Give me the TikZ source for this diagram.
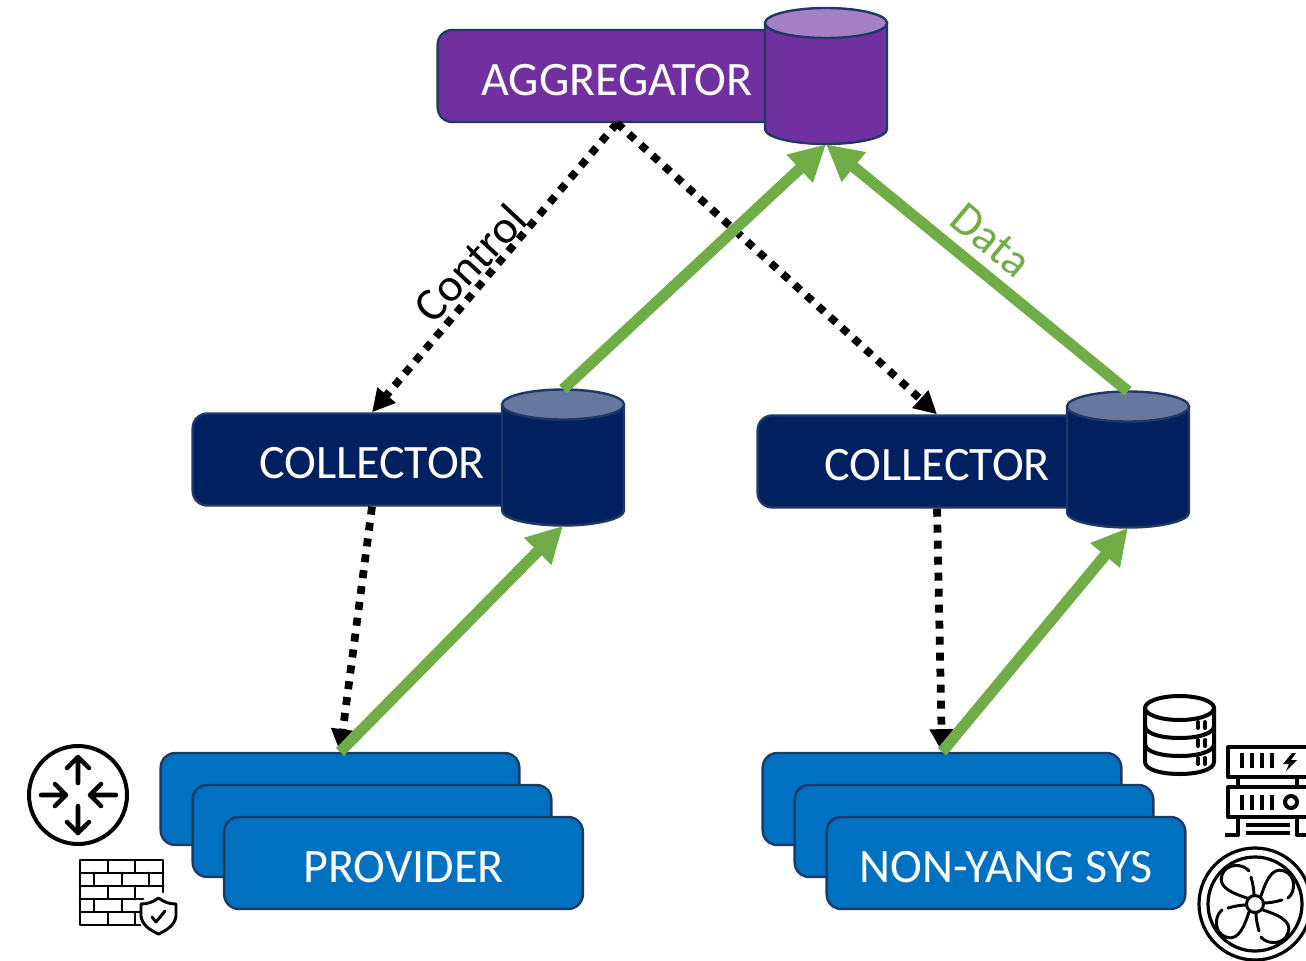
\documentclass[tikz,border=0pt]{standalone}
\usepackage{fontspec}
\setmainfont{Carlito}
\usetikzlibrary{arrows.meta}
\definecolor{edgeblue}{HTML}{1F3864}
\definecolor{aggfill}{HTML}{7030A0}
\definecolor{aggtop}{HTML}{A680C4}
\definecolor{colfill}{HTML}{002060}
\definecolor{coltop}{HTML}{66789F}
\definecolor{provfill}{HTML}{0070C0}
\definecolor{datagreen}{HTML}{70AD47}
\newcommand{\boxtext}[1]{\raisebox{0pt}[28.5pt][0pt]{#1}}
% name, centre x, centre y, body colour, top colour
\newcommand{\dbcyl}[5]{%
  \node[cylframe] (#1) at (#2,#3) {};
  \draw[cylline,fill=#4] (#2-61,#3-53) -- (#2-61,#3+53) arc[x radius=61,y radius=15,start angle=180,end angle=0] -- (#2+61,#3-53) -- cycle;
  \draw[cylline,fill=#5] (#2,#3-53) ellipse[x radius=61,y radius=15];
}
\tikzset{
  x=0.75pt,y=-0.75pt,
  box/.style={rectangle,rounded corners=11pt,draw=edgeblue,line width=1.8pt,minimum width=269pt,minimum height=69pt,inner sep=0pt,text=white,font=\fontsize{36}{40}\selectfont},
  cylframe/.style={rectangle,draw=none,minimum width=91.5pt,minimum height=102pt,inner sep=0pt},
  cylline/.style={draw=edgeblue,line width=1.8pt},
  ctrl/.style={-{Triangle[length=17pt,width=17pt]},line width=5.8pt,black,dash pattern=on 6pt off 6pt},
  datafl/.style={-{Triangle[length=27pt,width=27pt]},line width=8.4pt,datagreen},
  icon/.style={black,line width=3pt,line cap=round,line join=round},
  iconthin/.style={black,line width=2.2pt,line cap=round,line join=round},
  rarrow/.style={icon,line width=3.4pt},
}
\begin{document}
\begin{tikzpicture}
\useasboundingbox (0,0) rectangle (1306,960);
\clip (0,0) rectangle (1306,960);

% boxes and cylinders
\node[box,fill=aggfill] (agg) at (617,76) {\boxtext{AGGREGATOR}};
\dbcyl{aggdb}{826}{76}{aggfill}{aggtop}
\node[box,fill=colfill] (col1) at (372,459.5) {\boxtext{COLLECTOR}};
\dbcyl{col1db}{563}{457.5}{colfill}{coltop}
\node[box,fill=colfill] (col2) at (937,461.5) {\boxtext{COLLECTOR}};
\dbcyl{col2db}{1128}{459.5}{colfill}{coltop}
\node[box,fill=provfill] (prova) at (340,799) {};
\node[box,fill=provfill] (provb) at (372,831) {};
\node[box,fill=provfill] (provc) at (403.5,863) {\boxtext{PROVIDER}};
\node[box,fill=provfill] (nonya) at (942,799) {};
\node[box,fill=provfill] (nonyb) at (974,831) {};
\node[box,fill=provfill] (nonyc) at (1006,863) {\boxtext{NON-YANG SYS}};

% control connectors
\draw[ctrl] (agg.south) -- (col1.north);
\draw[ctrl] (agg.south) -- (col2.north);
\draw[ctrl] (col1.south) -- (prova.north);
\draw[ctrl] (col2.south) -- (nonya.north);

% data connectors
\draw[datafl] (col1db.north) -- (aggdb.south);
\draw[datafl] (col2db.north) -- (aggdb.south);
\draw[datafl] (prova.north) -- (col1db.south);
\draw[datafl] (nonya.north) -- (col2db.south);

% labels
\node[rotate=47,font=\fontsize{35}{38}\selectfont] (ctrllabel) at (470,263) {Control};
\node[rotate=-40,font=\fontsize{35}{38}\selectfont,text=datagreen] (datalabel) at (991,240) {Data};

% router icon
\draw[icon] (78,795) circle (49);
\draw[rarrow] (78,783) -- (78,757) (67,768) -- (78,757) -- (89,768);
\draw[rarrow] (78,806) -- (78,833) (67,822) -- (78,833) -- (89,822);
\draw[rarrow] (41,795) -- (66,795) (55,784) -- (66,795) -- (55,806);
\draw[rarrow] (116,795) -- (90,795) (101,784) -- (90,795) -- (101,806);

% firewall icon
\draw[iconthin] (163,892) -- (163,860) -- (80,860) -- (80,925) -- (140,925);
\draw[iconthin] (80,873) -- (163,873) (80,886) -- (163,886) (80,899) -- (143,899) (80,912) -- (140,912);
\draw[iconthin] (108,860) -- (108,873) (135,860) -- (135,873)
  (94,873) -- (94,886) (122,873) -- (122,886) (149,873) -- (149,886)
  (108,886) -- (108,899) (135,886) -- (135,899)
  (94,899) -- (94,912) (122,899) -- (122,912)
  (108,912) -- (108,925) (135,912) -- (135,925);
\draw[iconthin,fill=white] (158.5,898) .. controls (153,902) and (148,904) .. (141,904) -- (141,916) .. controls (142,925) and (150,930) .. (158.5,934) .. controls (167,930) and (175,925) .. (176,916) -- (176,904) .. controls (169,904) and (164,902) .. (158.5,898) -- cycle;
\draw[iconthin] (152,917) -- (156,922) -- (165,911);

% database icon
\draw[icon] (1145,708) -- (1145,762) .. controls (1145,778) and (1214,778) .. (1214,762) -- (1214,708);
\draw[icon] (1179.5,708) ellipse (34.5 and 12);
\draw[icon] (1145,726) .. controls (1145,742) and (1214,742) .. (1214,726);
\draw[icon] (1145,744) .. controls (1145,760) and (1214,760) .. (1214,744);
\foreach \yy in {725,743,761}{
  \draw[icon] (1198,\yy-3) -- (1198,\yy+3) (1205,\yy-3) -- (1205,\yy+3);
}

% server icon
\draw[icon,line cap=butt] (1312,747) -- (1228,747) -- (1228,777) -- (1312,777);
\draw[icon,line cap=butt] (1312,787) -- (1228,787) -- (1228,817) -- (1312,817);
\draw[icon,line cap=butt] (1238,777) -- (1238,787) (1297,777) -- (1297,787);
\draw[icon,line cap=butt] (1238,817) -- (1238,835) -- (1225,835) (1297,817) -- (1297,835) -- (1312,835);
\foreach \xx in {1242,1252,1262,1272}{
  \draw[icon,line cap=butt] (\xx,753) -- (\xx,768);
  \draw[icon,line cap=butt] (\xx,795) -- (\xx,810);
}
\fill[black] (1292,753) -- (1283,764) -- (1289,764) -- (1286,771) -- (1297,760) -- (1291,760) -- (1296,753) -- cycle;
\draw[icon] (1291,802) circle (6);
\draw[icon,line cap=butt] (1246,825) -- (1290,825) (1246,833) -- (1290,833);

% fan icon
\draw[iconthin,line width=2.4pt] (1255,904) circle (56);
\draw[iconthin,line width=2.4pt] (1255,904) circle (47);
\draw[iconthin] (1255,904) circle (8.5);
\foreach \aa in {0,90,180,270}{
  \begin{scope}[shift={(1255,904)},rotate=\aa]
    \draw[iconthin] (-8,-6) .. controls (-20,-10) and (-38,-16) .. (-33,-29) .. controls (-29,-41) and (-12,-41) .. (-6,-33);
    \draw[iconthin] (-4,-27) .. controls (-2,-20) and (-1,-14) .. (-1,-8);
  \end{scope}
}
\end{tikzpicture}
\end{document}
